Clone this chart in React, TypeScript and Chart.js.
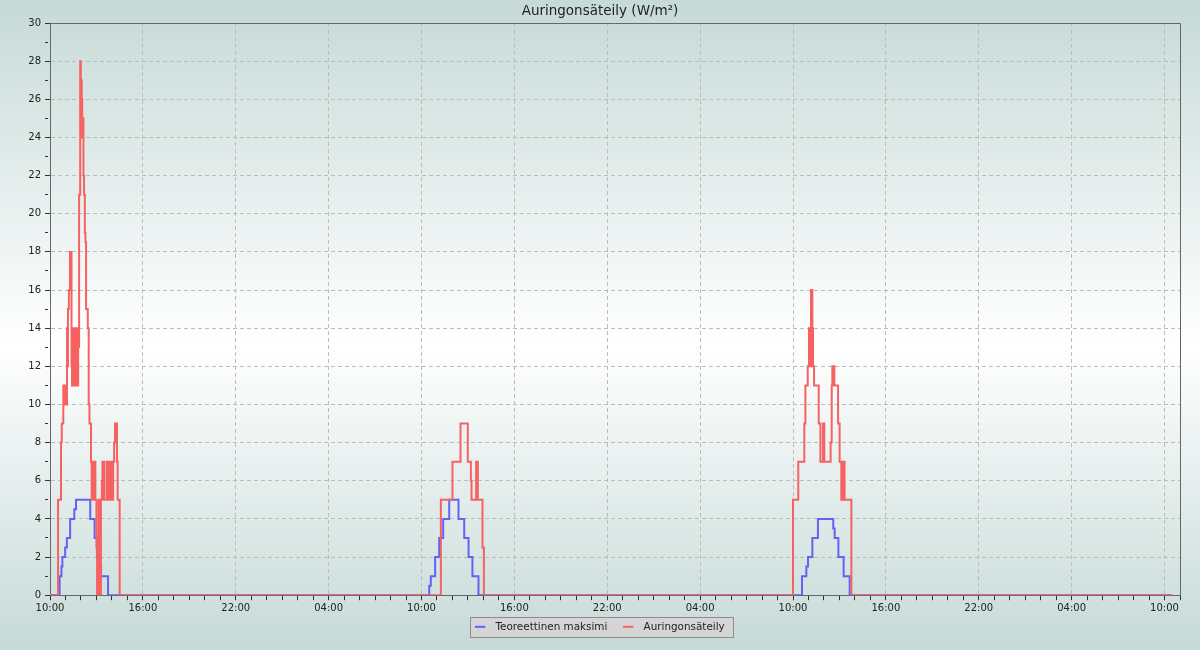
import React, { useEffect, useRef } from 'react';
import { Chart, registerables } from 'chart.js';

Chart.register(...registerables);

const TITLE = 'Auringonsäteily (W/m²)';
const MAX_LABEL = 'Teoreettinen maksimi';
const SUN_LABEL = 'Auringonsäteily';
const TIME_LABELS = ['10:00', '16:00', '22:00', '04:00'];
const X_MAX_HOURS = 73;
const Y_MAX = 30;

// Times are hours since 10:00 on the first day; each value holds until the next time.
const maxTimes = [
  0, 0.62, 0.74, 0.8, 0.98, 1.09, 1.3, 1.57, 1.68, 2.6, 2.88, 3.03, 3.24, 3.3, 3.75,
  24.5, 24.6, 24.88, 25.14, 25.4, 25.79, 26.39, 26.76, 27.04, 27.29, 27.68,
  48.58, 48.86, 48.97, 49.25, 49.61, 50.6, 50.69, 50.93, 51.27, 51.66,
  72.5,
];
const maxValues = [
  0, 1, 1.5, 2, 2.5, 3, 4, 4.5, 5, 4, 3, 2, 1.5, 1, 0,
  0.5, 1, 2, 3, 4, 5, 4, 3, 2, 1, 0,
  1, 1.5, 2, 3, 4, 3.5, 3, 2, 1, 0,
  0,
];

const sunTimes = [
  0, 0.52, 0.71, 0.76, 0.86, 0.9, 0.94, 0.98, 1.1, 1.13, 1.16, 1.22, 1.29, 1.39, 1.42,
  1.46, 1.5, 1.53, 1.57, 1.61, 1.65, 1.68, 1.72, 1.75, 1.78, 1.82, 1.88, 1.95, 1.99,
  2.02, 2.05, 2.08, 2.11, 2.16, 2.2, 2.25, 2.29, 2.33, 2.44, 2.5, 2.55, 2.65, 2.69,
  2.73, 2.77, 2.81, 2.85, 2.89, 2.93, 3.0, 3.04, 3.14, 3.2, 3.29, 3.35, 3.39, 3.43,
  3.47, 3.51, 3.67, 3.71, 3.75, 3.8, 3.84, 3.88, 3.92, 3.97, 4.08, 4.14, 4.2, 4.33,
  4.37, 4.5,
  25.25, 26.0, 26.52, 26.99, 27.19, 27.23, 27.53, 27.64, 27.94, 28.03,
  48.0, 48.34, 48.73, 48.8, 48.95, 49.03, 49.1, 49.16, 49.25, 49.29, 49.36, 49.66,
  49.77, 49.94, 50.02, 50.43, 50.5, 50.54, 50.6, 50.63, 50.67, 50.91, 51.01, 51.12,
  51.15, 51.19, 51.22, 51.26, 51.29, 51.33, 51.77,
  72.5,
];
const sunValues = [
  0, 5, 8, 9, 11, 10, 11, 10, 14, 12, 15, 16, 18, 12, 11,
  14, 12, 14, 11, 14, 12, 11, 12, 14, 11, 13, 21, 28, 24,
  27, 26, 24, 25, 22, 21, 19, 18.5, 15, 14, 10, 9, 7, 5,
  7, 5, 7, 5, 7, 5, 2.5, 0, 5, 0, 5, 6, 7, 5,
  7, 5, 7, 5, 7, 5, 7, 5, 7, 5, 7, 8, 9, 7,
  5, 0,
  5, 7, 9, 7, 6, 5, 7, 5, 2.5, 0,
  5, 7, 9, 11, 12, 14, 12, 16, 14, 12, 11, 9,
  7, 9, 7, 8, 11, 12, 11, 12, 11, 9, 7, 5,
  7, 6, 7, 5, 7, 5, 0,
  0,
];

const BLUE = 'rgb(98, 98, 246)';
const RED = 'rgb(246, 98, 98)';
const GRID = '#bcbcbc';
const AXIS = '#666666';
const TICK = '#333333';
const TEXT = '#222222';
const FONT = 'DejaVu Sans';

function legendMarker(color: string): HTMLCanvasElement {
  const c = document.createElement('canvas');
  c.width = 15;
  c.height = 4;
  const g = c.getContext('2d');
  if (g) {
    g.fillStyle = color;
    g.fillRect(0, 1, 10, 2);
  }
  return c;
}

const decorPlugin = {
  id: 'decor',
  afterLayout(chart: any) {
    const full = chart.width;
    const t = chart.titleBlock;
    if (t) {
      t.right = full;
      t.width = full - t.left;
    }
    const lg = chart.legend;
    if (lg) {
      lg.right = full;
      lg.width = full - lg.left;
      lg.top -= 8;
      lg.bottom -= 8;
    }
  },
  beforeDraw(chart: any) {
    const { ctx, width, height } = chart;
    ctx.save();
    const g = ctx.createLinearGradient(0, 0, 0, height);
    g.addColorStop(0, '#c6dad7');
    g.addColorStop(0.53, '#ffffff');
    g.addColorStop(1, '#c6dad7');
    ctx.fillStyle = g;
    ctx.fillRect(0, 0, width, height);
    const boxes = chart.legend && chart.legend.legendHitBoxes;
    if (boxes && boxes.length) {
      const l = Math.round(Math.min(...boxes.map((b: any) => b.left)) - 5);
      const r = Math.round(Math.max(...boxes.map((b: any) => b.left + b.width)) + 8);
      const t = Math.round(Math.min(...boxes.map((b: any) => b.top)) - 5);
      const bt = Math.round(Math.max(...boxes.map((b: any) => b.top + b.height)) + 5);
      ctx.fillStyle = '#d5d5d5';
      ctx.fillRect(l, t, r - l, bt - t);
      ctx.strokeStyle = '#8c8c8c';
      ctx.lineWidth = 1;
      ctx.strokeRect(l + 0.5, t + 0.5, r - l, bt - t);
    }
    ctx.restore();
  },
  afterDraw(chart: any) {
    const { ctx, chartArea } = chart;
    ctx.save();
    ctx.strokeStyle = AXIS;
    ctx.lineWidth = 1;
    ctx.beginPath();
    const top = Math.round(chartArea.top) + 0.5;
    const right = Math.round(chartArea.right) + 0.5;
    ctx.moveTo(Math.round(chartArea.left) + 0.5, top);
    ctx.lineTo(right, top);
    ctx.lineTo(right, Math.round(chartArea.bottom) + 0.5);
    ctx.stroke();
    ctx.restore();
  },
};

export default function App() {
  const canvasRef = useRef<HTMLCanvasElement | null>(null);

  useEffect(() => {
    document.body.style.margin = '0';
    const canvas = canvasRef.current;
    if (!canvas) return;
    Chart.defaults.font.family = FONT;

    const maxData = maxTimes.map((t, i) => ({ x: t, y: maxValues[i] }));
    const sunData = sunTimes.map((t, i) => ({ x: t, y: sunValues[i] }));

    const chart = new Chart(canvas, {
      type: 'line',
      data: {
        datasets: [
          {
            label: MAX_LABEL,
            data: maxData,
            borderColor: BLUE,
            backgroundColor: BLUE,
            borderWidth: 2,
            pointRadius: 0,
            pointStyle: legendMarker(BLUE),
            stepped: true,
            fill: false,
            order: 2,
          },
          {
            label: SUN_LABEL,
            data: sunData,
            borderColor: RED,
            backgroundColor: RED,
            borderWidth: 2,
            pointRadius: 0,
            pointStyle: legendMarker(RED),
            stepped: true,
            fill: false,
            order: 1,
          },
        ],
      },
      options: {
        responsive: false,
        animation: false,
        devicePixelRatio: 1,
        events: [],
        layout: { padding: { left: 0, right: 20, top: 0, bottom: 0 } },
        plugins: {
          title: {
            display: true,
            text: TITLE,
            color: TEXT,
            font: { family: FONT, size: 13.5, weight: 'normal' },
            padding: { top: 3, bottom: 3.8 },
          },
          legend: {
            display: true,
            position: 'bottom',
            labels: {
              color: TEXT,
              font: { family: FONT, size: 10.4 },
              usePointStyle: true,
              pointStyleWidth: 15,
              boxWidth: 15,
              padding: 16,
              sort: (a: any, b: any) => a.datasetIndex - b.datasetIndex,
            },
          },
          tooltip: { enabled: false },
        },
        scales: {
          x: {
            type: 'linear',
            min: 0,
            max: X_MAX_HOURS,
            afterFit: (scale: any) => {
              scale.height = 18.4;
            },
            ticks: {
              stepSize: 1,
              autoSkip: false,
              maxRotation: 0,
              minRotation: 0,
              padding: 2,
              color: TEXT,
              font: { family: FONT, size: 10 },
              callback: (v: any) => {
                const n = Number(v);
                return n % 6 === 0 ? TIME_LABELS[(n / 6) % 4] : '';
              },
            },
            grid: {
              color: (c: any) => (c.tick && c.tick.value % 6 === 0 ? GRID : 'rgba(0,0,0,0)'),
              tickColor: TICK,
              tickLength: 5,
              lineWidth: 1,
              tickBorderDash: [],
            },
            border: { color: AXIS, width: 1, dash: [4, 3] },
          },
          y: {
            type: 'linear',
            min: 0,
            max: Y_MAX,
            afterFit: (scale: any) => {
              scale.width = 50;
            },
            ticks: {
              stepSize: 1,
              autoSkip: false,
              padding: 4,
              color: TEXT,
              font: { family: FONT, size: 10 },
              callback: (v: any) => (Number(v) % 2 === 0 ? String(v) : ''),
            },
            grid: {
              color: (c: any) => (c.tick && c.tick.value % 2 === 0 ? GRID : 'rgba(0,0,0,0)'),
              tickColor: TICK,
              tickLength: 5,
              lineWidth: 1,
              tickBorderDash: (c: any) => (c.tick && c.tick.value % 2 !== 0 ? [3, 20] : []),
            },
            border: { color: AXIS, width: 1, dash: [4, 3] },
          },
        },
      },
      plugins: [decorPlugin],
    } as any);

    return () => {
      chart.destroy();
    };
  }, []);

  return (
    <div style={{ width: 1200, height: 650 }}>
      <canvas ref={canvasRef} width={1200} height={650} style={{ display: 'block' }} />
    </div>
  );
}
